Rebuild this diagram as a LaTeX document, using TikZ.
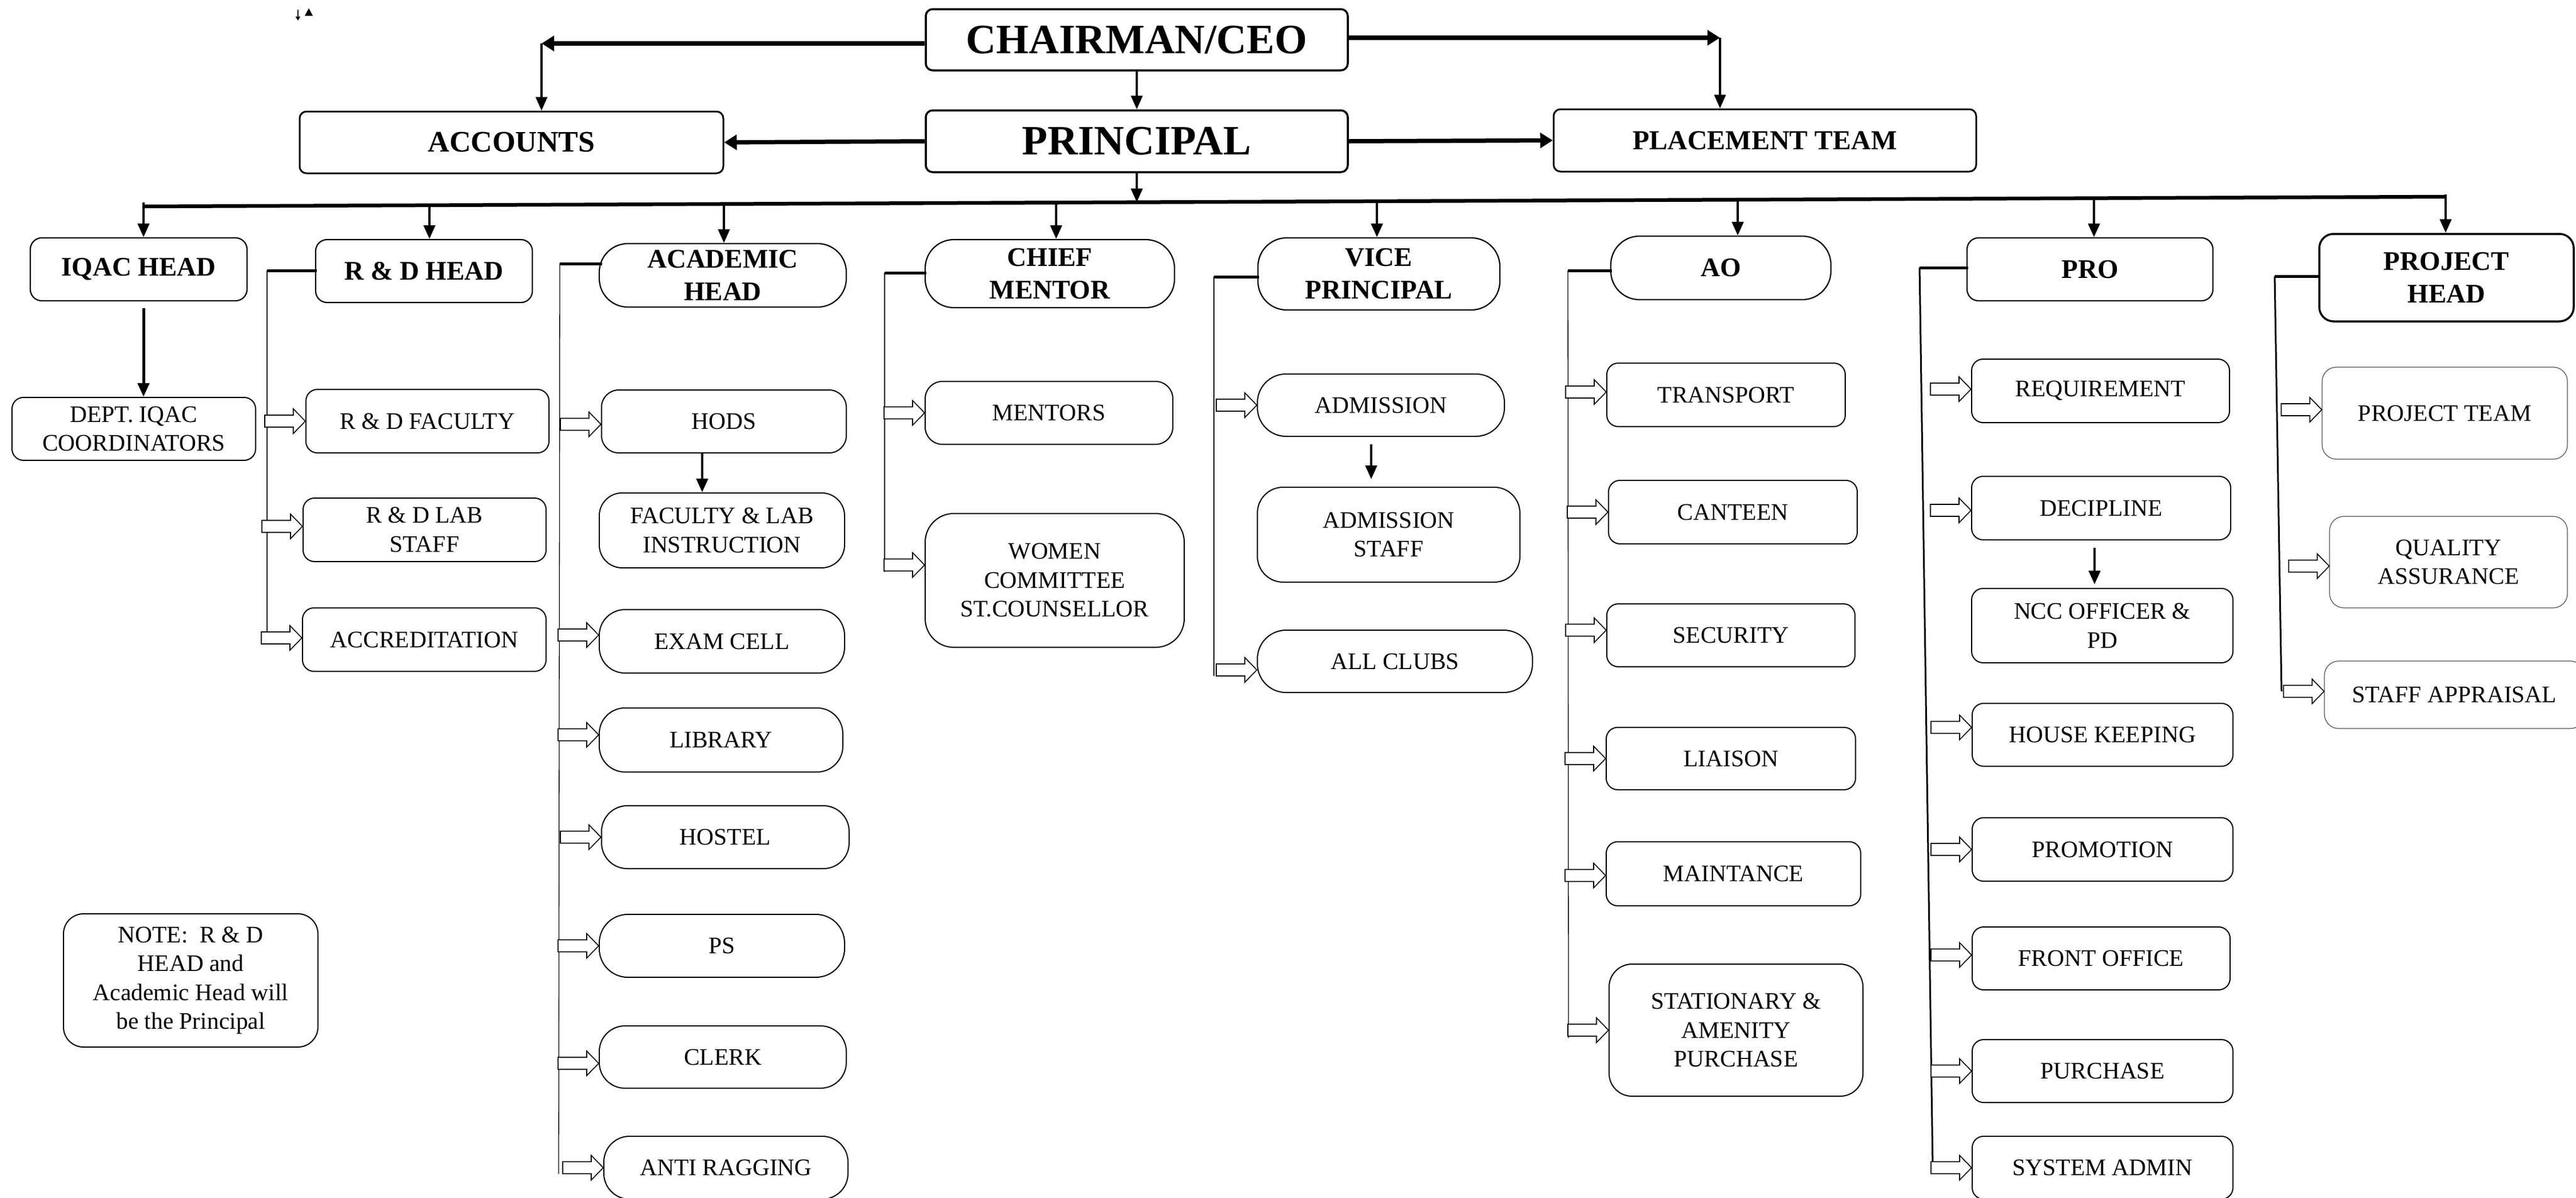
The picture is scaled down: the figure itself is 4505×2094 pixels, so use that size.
\documentclass[tikz,border=0pt]{standalone}
\usepackage{fontspec}
\setmainfont{Liberation Serif}
\usetikzlibrary{arrows.meta,calc}
\newcommand\FBig{\fontsize{73}{84}\selectfont\bfseries}
\newcommand\FAcc{\fontsize{52}{60}\selectfont\bfseries}
\newcommand\FPlace{\fontsize{48}{56}\selectfont\bfseries}
\newcommand\FHead{\fontsize{47}{57}\selectfont\bfseries}
\newcommand\FBody{\fontsize{41.5}{50.5}\selectfont}
\tikzset{
  topbox/.style={draw, line width=3.5pt, rounded corners=12pt, inner sep=0pt, align=center, font=\FBig},
  accbox/.style={draw, line width=3pt, rounded corners=12pt, inner sep=0pt, align=center, font=\FAcc},
  plbox/.style={draw, line width=3pt, rounded corners=12pt, inner sep=0pt, align=center, font=\FPlace},
  headbox/.style={draw, line width=2.2pt, rounded corners=20pt, inner sep=0pt, align=center, font=\FHead},
  leaf/.style={draw, line width=2pt, rounded corners=20pt, inner sep=0pt, align=center, font=\FBody},
  pleaf/.style={draw=black!70, line width=1.2pt, rounded corners=25pt, inner sep=0pt, align=center, font=\FBody},
  r30/.style={rounded corners=30pt},
  r40/.style={rounded corners=40pt},
  r45/.style={rounded corners=45pt},
  r50/.style={rounded corners=50pt},
  toparrow/.style={line width=7.5pt, -{Triangle[length=22pt,width=26pt]}},
  droparrow/.style={line width=4.5pt, -{Triangle[length=24pt,width=20pt]}},
  busline/.style={line width=6.5pt},
  brk/.style={line width=5pt},
  vln/.style={line width=1.3pt},
  vlnthick/.style={line width=3pt},
  blk/.style={draw, line width=1.6pt, fill=white, line join=miter}
}
\newcommand\bx[7]{%
  \pgfmathsetmacro\BXw{#5-#3}\pgfmathsetmacro\BXh{#6-#4}%
  \pgfmathsetmacro\BXx{(#3+#5)/2}\pgfmathsetmacro\BXy{(#4+#6)/2}%
  \node[#1, minimum width=\BXw pt, minimum height=\BXh pt] (#2) at (\BXx,\BXy) {#7};}
\newcommand\barrow[2]{%
  \begin{scope}[shift={(#1.west)},shift={(0,#2)}]
    \draw[blk] (0,0) -- (-21,-21.5) -- (-21,-10.5) -- (-71,-10.5) -- (-71,10.5) -- (-21,10.5) -- (-21,21.5) -- cycle;
  \end{scope}}
\begin{document}
\begin{tikzpicture}[x=1pt,y=-1pt]
\fill[white] (0,0) rectangle (4505,2094);
\useasboundingbox (0,0) rectangle (4505,2094);

% small marks top-left
\draw[line width=1.5pt, -{Triangle[length=7pt,width=8pt]}] (521,17) -- (521,36);
\fill (533,27.5) -- (540,14.5) -- (547,27.5) -- cycle;

% top level
\bx{topbox}{ceo}{1619}{16}{2357}{123}{CHAIRMAN/CEO}
\bx{topbox}{prin}{1619}{193}{2357}{301}{PRINCIPAL}
\bx{accbox}{acc}{524}{195}{1265}{303}{ACCOUNTS}
\bx{plbox}{place}{2717}{191}{3456}{300}{PLACEMENT TEAM}

% heads
\bx{headbox}{iqac}{53}{416}{432}{526}{IQAC HEAD}
\bx{headbox}{rdh}{552}{419}{931}{529}{R \& D HEAD}
\bx{headbox,r50}{acad}{1048}{426}{1480}{537}{ACADEMIC\\HEAD}
\bx{headbox,r50}{chief}{1618}{419}{2054}{538}{CHIEF\\MENTOR}
\bx{headbox,r50}{vp}{2200}{416}{2623}{542}{VICE\\PRINCIPAL}
\bx{headbox,r50}{ao}{2817}{413}{3202}{524}{AO}
\bx{headbox}{pro}{3440}{416}{3870}{526}{PRO}
\bx{headbox,line width=3.5pt,rounded corners=25pt}{proj}{4056}{409}{4501}{562}{PROJECT\\HEAD}

% IQAC column
\bx{leaf}{dept}{21}{695}{447}{805}{DEPT. IQAC\\COORDINATORS}
% R&D column
\bx{leaf}{rdf}{535}{681}{960}{792}{R \& D FACULTY}
\bx{leaf}{rdl}{530}{871}{955}{982}{R \& D LAB\\STAFF}
\bx{leaf}{accr}{529}{1063}{955}{1174}{ACCREDITATION}
% Academic column
\bx{leaf,r30}{hods}{1052}{682}{1480}{792}{HODS}
\bx{leaf,r40}{fac}{1048}{862}{1477}{993}{FACULTY \& LAB\\INSTRUCTION}
\bx{leaf,r45}{exam}{1048}{1066}{1477}{1177}{EXAM CELL}
\bx{leaf,r45}{lib}{1048}{1238}{1474}{1350}{LIBRARY}
\bx{leaf,r45}{host}{1052}{1409}{1485}{1519}{HOSTEL}
\bx{leaf,r50}{ps}{1048}{1599}{1477}{1709}{PS}
\bx{leaf,r45}{clerk}{1048}{1794}{1480}{1903}{CLERK}
\bx{leaf,r45}{anti}{1056}{1987}{1483}{2097}{ANTI RAGGING}
% Chief mentor column
\bx{leaf,r30}{mentors}{1618}{667}{2051}{777}{MENTORS}
\bx{leaf,r50}{women}{1618}{898}{2071}{1132}{WOMEN\\COMMITTEE\\ST.COUNSELLOR}
% VP column
\bx{leaf,r50}{adm}{2199}{654}{2631}{763}{ADMISSION}
\bx{leaf,r45}{admst}{2199}{852}{2658}{1018}{ADMISSION\\STAFF}
\bx{leaf,r50}{clubs}{2199}{1102}{2680}{1211}{ALL CLUBS}
% AO column
\bx{leaf}{transport}{2810}{635}{3227}{746}{TRANSPORT}
\bx{leaf}{canteen}{2813}{840}{3248}{951}{CANTEEN}
\bx{leaf}{security}{2810}{1056}{3244}{1166}{SECURITY}
\bx{leaf}{liaison}{2809}{1272}{3245}{1381}{LIAISON}
\bx{leaf}{maint}{2809}{1472}{3254}{1584}{MAINTANCE}
\bx{leaf,r40}{stat}{2814}{1686}{3258}{1917}{STATIONARY \&\\AMENITY\\PURCHASE}
% PRO column
\bx{leaf}{req}{3448}{628}{3899}{739}{REQUIREMENT}
\bx{leaf}{disc}{3448}{833}{3901}{944}{DECIPLINE}
\bx{leaf}{ncc}{3448}{1029}{3905}{1159}{NCC OFFICER \&\\PD}
\bx{leaf}{hk}{3449}{1230}{3905}{1340}{HOUSE KEEPING}
\bx{leaf}{promo}{3449}{1430}{3905}{1541}{PROMOTION}
\bx{leaf}{front}{3449}{1621}{3900}{1731}{FRONT OFFICE}
\bx{leaf}{purch}{3449}{1818}{3905}{1928}{PURCHASE}
\bx{leaf}{sysad}{3449}{1987}{3905}{2097}{SYSTEM ADMIN}
% Project column
\bx{pleaf}{pteam}{4061}{642}{4490}{803}{PROJECT TEAM}
\bx{pleaf}{qa}{4074}{903}{4490}{1063}{QUALITY\\ASSURANCE}
\bx{pleaf}{sapp}{4065}{1156}{4520}{1274}{STAFF APPRAISAL}
% note
\bx{leaf,rounded corners=35pt}{note}{111}{1598}{556}{1831}{NOTE:\ \ R \& D\\HEAD and\\Academic Head will\\be the Principal}

% ---- top connectors
\coordinate (accTurn) at (947,76);
\coordinate (plTurn) at (3008,66);
\draw[toparrow] (ceo.west |- accTurn) -- (accTurn);
\draw[droparrow, line width=4pt] (accTurn) -- (accTurn |- acc.north);
\draw[toparrow] (ceo.east |- plTurn) -- (plTurn);
\draw[droparrow, line width=4pt] (plTurn) -- (plTurn |- place.north);
\draw[droparrow, line width=4pt] (ceo.south) -- (prin.north);
\draw[toparrow] (prin.west) -- (acc.east);
\draw[toparrow] (prin.east) -- (place.west);

% ---- bus
\coordinate (busL) at (251,361);
\coordinate (busR) at (4277,344);
\draw[busline] (busL) -- (busR);
\coordinate (bP) at (1988,353.7);
\draw[droparrow, line width=4pt] (prin.south) -- (bP);
\coordinate (b1) at (251,354);
\coordinate (b2) at (751,358.9);
\coordinate (b3) at (1266,356.7);
\coordinate (b4) at (1847,354.3);
\coordinate (b5) at (2408,351.9);
\coordinate (b6) at (3039,349.2);
\coordinate (b7) at (3662,346.6);
\coordinate (b8) at (4277,340);
\draw[droparrow] (b1) -- (b1 |- iqac.north);
\draw[droparrow] (b2) -- (b2 |- rdh.north);
\draw[droparrow] (b3) -- (b3 |- acad.north);
\draw[droparrow] (b4) -- (b4 |- chief.north);
\draw[droparrow] (b5) -- (b5 |- vp.north);
\draw[droparrow] (b6) -- (b6 |- ao.north);
\draw[droparrow] (b7) -- (b7 |- pro.north);
\draw[droparrow] (b8) -- (b8 |- proj.north);

% ---- internal drop arrows
\draw[droparrow, line width=5pt, shorten <=12pt] (iqac.south -| b1) -- (b1 |- dept.north);
\coordinate (hx) at (1228,0);
\draw[droparrow] (hods.south -| hx) -- (hx |- fac.north);
\coordinate (ax) at (2398,0);
\draw[droparrow, shorten <=13pt, shorten >=13pt] (adm.south -| ax) -- (ax |- admst.north);
\coordinate (dx) at (3663,0);
\draw[droparrow, shorten <=13pt, shorten >=6pt] (disc.south -| dx) -- (dx |- ncc.north);

% ---- brackets and spines
\coordinate (rdT) at (467,473);   \coordinate (rdB) at (467,1126);
\coordinate (acT) at (979,461);   \coordinate (acB) at (977,2053);
\coordinate (chT) at (1547,477);  \coordinate (chB) at (1547,1000);
\coordinate (vpT) at (2123,484);  \coordinate (vpB) at (2123,1182);
\coordinate (aoT) at (2742,473);  \coordinate (aoB) at (2743,1815);
\coordinate (prT) at (3357,468);  \coordinate (prB) at (3380,2041);
\coordinate (pjT) at (3978,483);  \coordinate (pjB) at (3990,1209);
\draw[brk, shorten >=-3pt] (rdT) -- (rdh.west |- rdT);
\draw[brk, shorten >=-6pt] (acT) -- (acad.west |- acT);
\draw[brk, shorten >=-3pt] (chT) -- (chief.west |- chT);
\draw[brk, shorten >=-3pt] (vpT) -- (vp.west |- vpT);
\draw[brk, shorten >=-3pt] (aoT) -- (ao.west |- aoT);
\draw[brk, shorten >=-3pt] (prT) -- (pro.west |- prT);
\draw[brk, shorten >=-3pt] (pjT) -- (proj.west |- pjT);
\draw[vln] (rdT) -- (rdB);
\draw[vln] (acT) -- (acB);
\draw[vln] (chT) -- (chB);
\draw[vln] (vpT) -- (vpB);
\draw[vln] (aoT) -- (aoB);
\draw[vlnthick] (prT) -- (prB);
\draw[vlnthick] (pjT) -- (pjB);

% ---- block arrows
\barrow{rdf}{0}
\barrow{rdl}{-6}
\barrow{accr}{-3}
\barrow{hods}{5}
\barrow{exam}{-11}
\barrow{lib}{-9}
\barrow{host}{0}
\barrow{ps}{0}
\barrow{clerk}{11}
\barrow{anti}{0}
\barrow{mentors}{0}
\barrow{women}{-27}
\barrow{adm}{0}
\barrow{clubs}{15}
\barrow{transport}{-5}
\barrow{canteen}{0}
\barrow{security}{-9}
\barrow{liaison}{0}
\barrow{maint}{3}
\barrow{stat}{0}
\barrow{req}{-3}
\barrow{disc}{4}
\barrow{hk}{-13}
\barrow{promo}{0}
\barrow{front}{-6}
\barrow{purch}{0}
\barrow{sysad}{0}
\barrow{pteam}{-6}
\barrow{qa}{7}
\barrow{sapp}{-6}
\end{tikzpicture}
\end{document}
